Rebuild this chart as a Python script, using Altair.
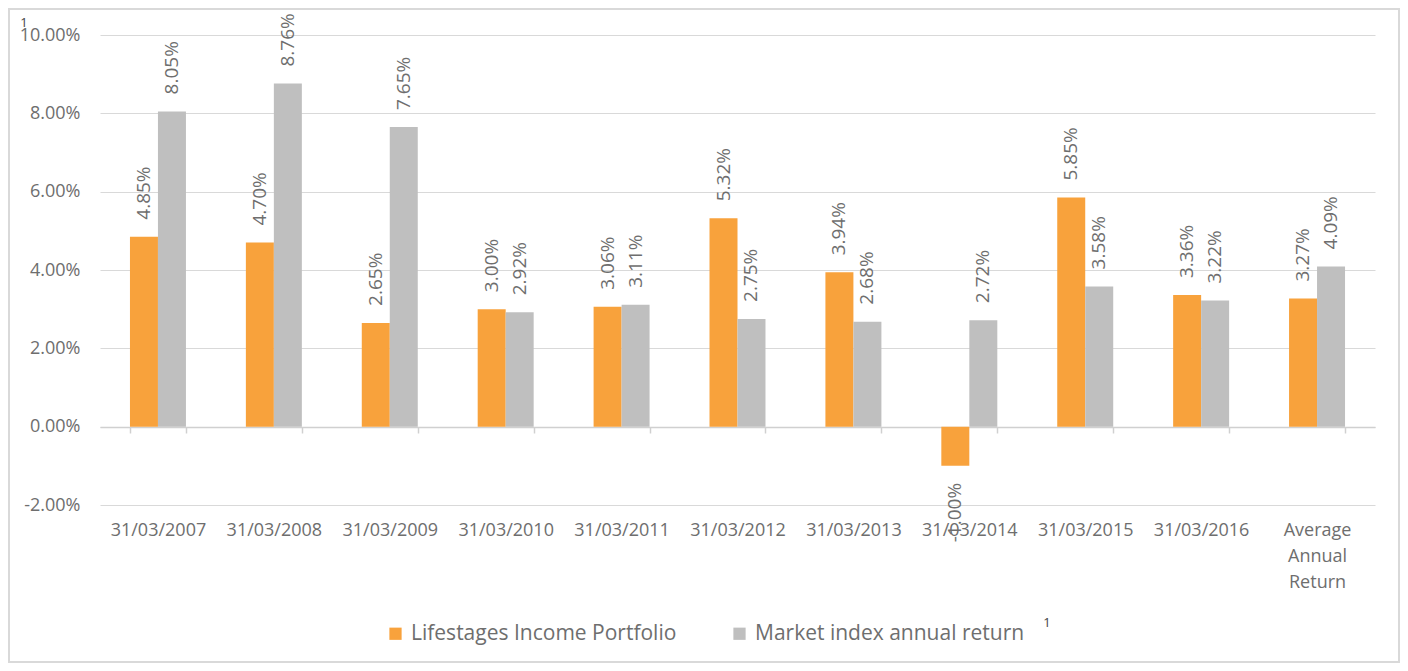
import altair as alt
import pandas as pd

categories = ["31/03/2007", "31/03/2008", "31/03/2009", "31/03/2010", "31/03/2011",
              "31/03/2012", "31/03/2013", "31/03/2014", "31/03/2015", "31/03/2016",
              "Average Annual Return"]
portfolio = [4.85, 4.70, 2.65, 3.00, 3.06, 5.32, 3.94, -1.00, 5.85, 3.36, 3.27]
market = [8.05, 8.76, 7.65, 2.92, 3.11, 2.75, 2.68, 2.72, 3.58, 3.22, 4.09]
series = ["Lifestages Income Portfolio", "Market index annual return"]
colors = ["#F8A23C", "#BFBFBF"]
y_ticks = [-0.02, 0.0, 0.02, 0.04, 0.06, 0.08, 0.10]

rows = []
for c, p, m in zip(categories, portfolio, market):
    rows.append({"cat": c, "series": series[0], "value": p / 100})
    rows.append({"cat": c, "series": series[1], "value": m / 100})
df = pd.DataFrame(rows)

FONT = "Open Sans"
GRAY = "#6e6e6e"
W, H = 1275, 470

x = alt.X("cat:N", sort=categories, title=None,
          scale=alt.Scale(paddingInner=0.517, paddingOuter=0.2585),
          axis=alt.Axis(offset=-78, labelAngle=0, labelPadding=88, tickBand="extent",
                        tickSize=6, tickColor="#d0d0d0", domainColor="#d0d0d0",
                        domainWidth=1.5, tickWidth=1.5,
                        labelExpr="split(datum.label, ' ')", labelLineHeight=26,
                        labelFontSize=18, labelColor=GRAY, labelFont=FONT, grid=False))
xo = alt.XOffset("series:N", sort=series, scale=alt.Scale(paddingInner=0, paddingOuter=0))
y = alt.Y("value:Q", title=None,
          scale=alt.Scale(domain=[-0.02, 0.10], nice=False, zero=False),
          axis=alt.Axis(format=".2%", values=y_ticks, domain=False, ticks=False,
                        labelExpr="replace(datum.label, '\u2212', '-')",
                        labelPadding=20, gridColor="#d9d9d9", gridWidth=1.2,
                        labelFontSize=18, labelColor=GRAY, labelFont=FONT))
color = alt.Color("series:N", sort=series, title=None,
                  scale=alt.Scale(domain=series, range=colors),
                  legend=alt.Legend(orient="none", legendX=285, legendY=588,
                                    direction="horizontal", symbolType="square",
                                    symbolSize=150, symbolStrokeWidth=0,
                                    labelFontSize=21, labelFont=FONT, labelColor=GRAY,
                                    labelLimit=400, columnPadding=52, labelOffset=5))

base = alt.Chart(df).transform_calculate(
    lbl="replace(format(datum.value, '.2%'), '\u2212', '-')"
)
bars = base.mark_bar().encode(x=x, xOffset=xo, y=y, color=color)
pos_labels = base.transform_filter("datum.value >= 0").mark_text(
    angle=270, align="left", baseline="middle", dx=17, fontSize=19, font=FONT, color=GRAY
).encode(x=x, xOffset=xo, y=y, text="lbl:N")
neg_labels = base.transform_filter("datum.value < 0").mark_text(
    angle=270, align="right", baseline="middle", dx=-17, fontSize=19, font=FONT, color=GRAY
).encode(x=x, xOffset=xo, y=y, text="lbl:N")

one = alt.Data(values=[{"t": "1"}])
border = alt.Chart(alt.Data(values=[{}])).mark_rect(
    fillOpacity=0, stroke="#d9d9d9", strokeWidth=2
).encode(x=alt.value(-91), x2=alt.value(1299), y=alt.value(-26), y2=alt.value(627))
sup1 = alt.Chart(one).mark_text(fontSize=13, font=FONT, color="#444444").encode(
    x=alt.value(-76), y=alt.value(-12), text="t:N")
sup2 = alt.Chart(one).mark_text(fontSize=13, font=FONT, color="#444444").encode(
    x=alt.value(947), y=alt.value(588), text="t:N")

chart = alt.layer(border, bars, pos_labels, neg_labels, sup1, sup2).properties(
    width=W, height=H,
    autosize=alt.AutoSizeParams(type="none"),
    padding={"left": 92, "top": 27, "right": 25, "bottom": 158},
).configure_view(stroke=None)

chart.save("out.html", embed_options={"renderer": "svg", "actions": False})
